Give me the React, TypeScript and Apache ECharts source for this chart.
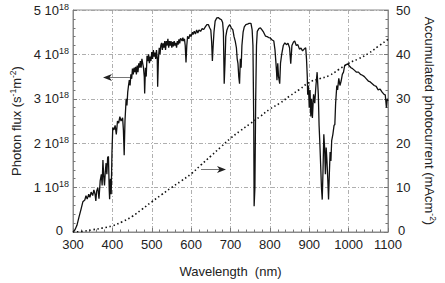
import React, { useEffect, useRef } from "react";
import * as echarts from "echarts";

// Photon flux spectrum (units of 1e18 s^-1 m^-2)
const fluxWavelengths = [
  300, 305, 310, 315, 320, 325, 330, 333, 336, 340, 343, 346, 350, 353, 356, 358, 360, 363, 366, 369,
  372, 374, 376, 378, 380, 382, 384, 386, 388, 390, 392, 393, 395, 397, 399, 401, 404, 407, 410, 413,
  416, 419, 422, 426, 428, 430, 432, 435, 437, 439, 441, 443, 445, 447, 449, 451, 453, 455, 457, 459,
  461, 463, 465, 467, 469, 471, 473, 475, 477, 479, 481, 482, 484, 486, 488, 490, 492, 494, 496, 498,
  500, 502, 504, 506, 508, 510, 512, 514, 515, 517, 519, 521, 523, 525, 527, 529, 531, 533, 535, 537,
  539, 541, 543, 545, 547, 549, 551, 553, 555, 557, 559, 561, 563, 565, 567, 569, 571, 573, 575, 577,
  579, 581, 583, 585, 587, 589, 591, 594, 597, 600, 603, 605, 608, 611, 614, 617, 620, 624, 628, 632,
  636, 640, 644, 647, 650, 652, 654, 656, 658, 661, 665, 669, 673, 677, 680, 682, 684, 686, 688, 691,
  694, 698, 702, 706, 709, 712, 715, 717, 719, 721, 723, 725, 727, 729, 732, 735, 739, 743, 747, 752,
  755, 757, 759, 760, 762, 764, 766, 768, 772, 776, 780, 784, 789, 793, 797, 801, 805, 810, 813, 815,
  817, 818, 820, 822, 825, 827, 830, 834, 838, 842, 846, 850, 853, 856, 860, 863, 867, 871, 875, 879,
  883, 887, 891, 893, 895, 896, 898, 900, 902, 904, 906, 908, 911, 914, 917, 920, 923, 925, 927, 929,
  931, 933, 935, 937, 939, 941, 943, 945, 947, 949, 951, 953, 955, 957, 960, 963, 965, 967, 970, 972,
  975, 978, 981, 984, 987, 990, 994, 998, 1002, 1006, 1010, 1015, 1020, 1025, 1030, 1035, 1040, 1045, 1050, 1055,
  1060, 1065, 1070, 1075, 1080, 1085, 1090, 1093, 1096, 1098, 1100,
];
const fluxValues = [
  0, 0.05, 0.15, 0.33, 0.5, 0.68, 0.72, 0.82, 0.74, 0.85, 0.78, 0.9, 0.82, 0.95, 0.85, 0.7, 0.92, 1.0, 0.75, 1.15,
  1.3, 1.05, 1.62, 1.25, 1.05, 1.35, 1.55, 1.3, 1.68, 1.7, 0.95, 0.74, 1.2, 0.85, 1.8, 2.35, 2.3, 2.4, 2.2, 2.5,
  2.45, 2.6, 2.5, 2.57, 2.3, 1.73, 2.5, 3.0, 2.85, 3.15, 3.3, 3.42, 3.3, 3.55, 3.45, 3.68, 3.55, 3.7, 3.6, 3.72,
  3.55, 3.75, 3.6, 3.8, 3.7, 3.85, 3.7, 3.9, 3.8, 3.7, 3.5, 3.12, 3.7, 3.5, 3.97, 3.85, 4.0, 3.8, 3.95, 3.85,
  4.05, 3.9, 4.1, 3.95, 4.04, 3.9, 4.1, 3.9, 3.27, 3.9, 4.15, 4.0, 4.2, 4.26, 4.1, 4.25, 4.15, 4.3, 4.1, 4.3,
  4.2, 4.35, 4.15, 4.3, 4.2, 4.3, 4.15, 4.28, 4.18, 4.3, 4.2, 4.26, 4.15, 4.3, 4.22, 4.34, 4.25, 4.36, 4.34, 4.3,
  4.38, 4.3, 4.35, 4.2, 3.82, 4.2, 4.41, 4.35, 4.45, 4.4, 4.5, 4.45, 4.52, 4.46, 4.55, 4.48, 4.55, 4.52, 4.58, 4.56,
  4.62, 4.67, 4.67, 4.6, 4.55, 4.3, 3.85, 4.2, 4.5, 4.75, 4.82, 4.83, 4.8, 4.78, 4.72, 4.5, 3.34, 3.8, 4.4, 4.55,
  4.62, 4.67, 4.6, 4.55, 4.4, 4.3, 4.15, 3.9, 3.79, 3.5, 3.34, 3.9, 3.7, 4.2, 4.5, 4.62, 4.67, 4.68, 4.7, 4.7,
  4.55, 4.2, 2.5, 0.58, 1.0, 3.0, 4.2, 4.52, 4.58, 4.6, 4.55, 4.5, 4.41, 4.4, 4.38, 4.37, 4.33, 4.3, 4.1, 3.86,
  3.6, 3.42, 3.8, 3.5, 3.34, 3.8, 4.0, 4.2, 4.26, 4.22, 4.25, 4.15, 3.79, 4.2, 4.28, 4.3, 4.2, 4.22, 4.12, 4.14,
  4.08, 4.12, 4.15, 3.9, 3.5, 3.09, 3.3, 2.8, 3.2, 2.6, 3.0, 2.57, 3.1, 2.9, 3.3, 3.6, 3.1, 2.4, 1.98, 1.5,
  1.0, 0.73, 1.4, 2.2, 1.9, 1.3, 1.9, 1.6, 1.2, 0.73, 1.3, 1.8, 1.6, 2.06, 2.2, 2.4, 2.42, 2.9, 3.3, 3.2,
  3.46, 3.3, 3.4, 3.55, 3.6, 3.75, 3.77, 3.79, 3.74, 3.7, 3.68, 3.64, 3.6, 3.6, 3.55, 3.53, 3.5, 3.45, 3.4, 3.38,
  3.34, 3.3, 3.28, 3.2, 3.22, 3.15, 3.1, 3.09, 2.8, 3.0, 2.95,
];

// Accumulated photocurrent (mA cm^-2)
const currentWavelengths = [
  300, 325, 350, 375, 400, 425, 450, 475, 500, 525, 550, 575, 600, 625, 650, 675, 700,
  725, 750, 775, 800, 825, 850, 875, 900, 925, 950, 975, 1000, 1025, 1050, 1075, 1100,
];
const currentValues = [
  0, 0.15, 0.5, 0.9, 1.4, 2.3, 3.5, 5.1, 6.8, 8.4, 10.0, 11.5, 13.1, 15.1, 17.1, 19.1, 21.1,
  22.8, 24.4, 26.0, 27.7, 29.0, 30.6, 32.1, 33.7, 34.5, 35.2, 36.6, 38.0, 39.0, 40.2, 41.8, 43.4,
];

const xTicks = [300, 400, 500, 600, 700, 800, 900, 1000, 1100];

const FONT = "Liberation Sans, Arial, Helvetica, sans-serif";
const gridLine = { color: "#9a9a9a", width: 0.8, type: [4, 2, 1, 2] as any };

export default function App() {
  const ref = useRef<HTMLDivElement>(null);
  useEffect(() => {
    if (!ref.current) return;
    const chart = echarts.init(ref.current, null, { renderer: "svg" });
    const fluxData = fluxWavelengths.map((w, i) => [w, fluxValues[i]]);
    const curData = currentWavelengths.map((w, i) => [w, currentValues[i]]);
    const sup = { fontSize: 8.5, fontFamily: FONT, color: "#222", verticalAlign: "bottom", padding: [0, 0, 7, 0] };
    const tickSup = { fontSize: 9, fontFamily: FONT, color: "#222", verticalAlign: "bottom", padding: [0, 0, 7, 0] };
    chart.setOption({
      animation: false,
      backgroundColor: "#fff",
      textStyle: { fontFamily: FONT },
      grid: { left: 68.8, right: 52.5, top: 10, bottom: 46.5, show: true, borderColor: "#8a8a8a", borderWidth: 1 },
      xAxis: {
        type: "value",
        min: 300,
        max: 1100,
        interval: 100,
        name: "Wavelength  (nm)",
        nameLocation: "middle",
        nameGap: 33,
        nameTextStyle: { fontSize: 13, color: "#222", fontFamily: FONT },
        axisLine: { lineStyle: { color: "#8a8a8a" } },
        axisTick: { inside: true, length: 4, lineStyle: { color: "#777" } },
        minorTick: { show: true, splitNumber: 5, length: 2.5, lineStyle: { color: "#777" } },
        axisLabel: {
          fontSize: 13,
          color: "#222",
          margin: 6,
          fontFamily: FONT,
          formatter: (v: number) => (xTicks.includes(v) ? String(v) : ""),
        },
        splitLine: { show: true, lineStyle: gridLine },
      },
      yAxis: [
        {
          type: "value",
          min: 0,
          max: 5,
          interval: 1,
          position: "left",
          name: "{a|Photon flux (s}{s|-1}{a|m}{s|-2}{a|)}",
          nameLocation: "middle",
          nameGap: 49,
          nameRotate: 90,
          nameTextStyle: {
            rich: { a: { fontSize: 13, color: "#222", fontFamily: FONT }, s: sup },
          },
          axisLine: { show: true, lineStyle: { color: "#8a8a8a" } },
          axisTick: { inside: true, length: 4, lineStyle: { color: "#777" } },
          minorTick: { show: true, splitNumber: 5, length: 2.5, lineStyle: { color: "#777" } },
          axisLabel: {
            margin: 4,
            formatter: (v: number) => (v === 0 ? "{z|0}" : `{a|${v} 10}{s|18}`),
            rich: {
              a: { fontSize: 13, color: "#222", fontFamily: FONT },
              z: { fontSize: 13, color: "#222", fontFamily: FONT, padding: [0, 6, 4, 0] },
              s: tickSup,
            },
          },
          splitLine: { show: true, lineStyle: gridLine },
        },
        {
          type: "value",
          min: 0,
          max: 50,
          interval: 10,
          position: "right",
          name: "{a|Accumulated photocurrent (mAcm}{s|-2}{a|)}",
          nameLocation: "middle",
          nameGap: 33,
          nameRotate: -90,
          nameTextStyle: {
            rich: { a: { fontSize: 13, color: "#222", fontFamily: FONT }, s: sup },
          },
          axisLine: { show: true, lineStyle: { color: "#8a8a8a" } },
          axisTick: { inside: true, length: 4, lineStyle: { color: "#777" } },
          minorTick: { show: true, splitNumber: 5, length: 2.5, lineStyle: { color: "#777" } },
          axisLabel: {
            margin: 8,
            formatter: (v: number) => (v === 0 ? "{z|0}" : `{a|${v}}`),
            rich: {
              a: { fontSize: 13, color: "#222", fontFamily: FONT },
              z: { fontSize: 13, color: "#222", fontFamily: FONT, padding: [0, 0, 4, 2] },
            },
          },
          splitLine: { show: false },
        },
      ],
      series: [
        {
          type: "line",
          data: fluxData,
          yAxisIndex: 0,
          showSymbol: false,
          symbol: "none",
          lineStyle: { color: "#111", width: 1.3 },
          z: 3,
        },
        {
          type: "line",
          data: curData,
          yAxisIndex: 1,
          smooth: true,
          showSymbol: false,
          symbol: "none",
          lineStyle: { color: "#111", width: 1.6, type: [1.5, 2.6] },
          z: 2,
        },
      ],
      graphic: [
        { type: "line", shape: { x1: 109, y1: 77.5, x2: 131, y2: 77.5 }, style: { stroke: "#777", lineWidth: 1 } },
        {
          type: "polygon",
          shape: { points: [[103, 77.5], [112, 74], [109.5, 77.5], [112, 81]] },
          style: { fill: "#222" },
        },
        { type: "line", shape: { x1: 201, y1: 169.5, x2: 220, y2: 169.5 }, style: { stroke: "#777", lineWidth: 1 } },
        {
          type: "polygon",
          shape: { points: [[226, 169.5], [217, 166], [219.5, 169.5], [217, 173]] },
          style: { fill: "#222" },
        },
      ],
    });
    return () => chart.dispose();
  }, []);
  return <div ref={ref} style={{ width: 445, height: 283, position: "absolute", left: 0, top: 0 }} />;
}
